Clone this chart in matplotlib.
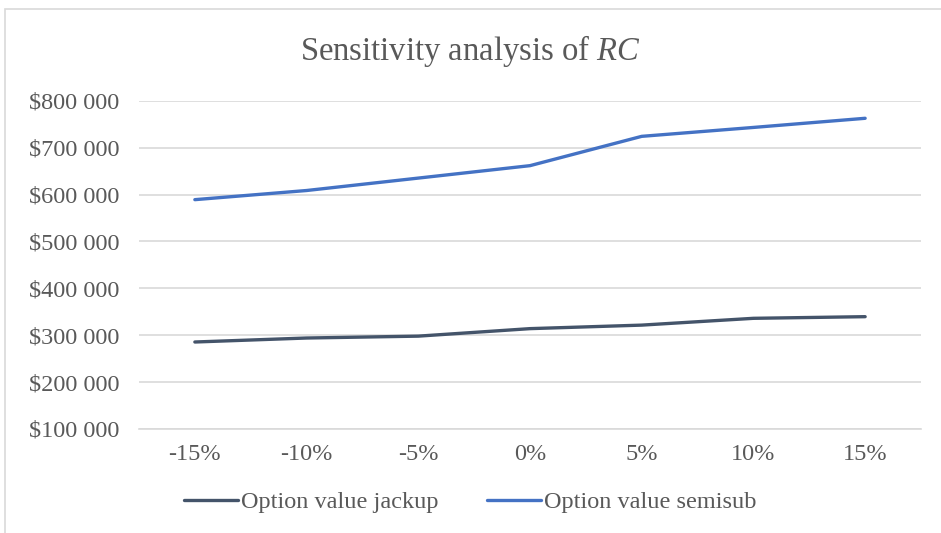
import matplotlib
matplotlib.use("Agg")
import matplotlib.pyplot as plt
from matplotlib.patches import Rectangle
from matplotlib.ticker import FuncFormatter

categories = ["-15%", "-10%", "-5%", "0%", "5%", "10%", "15%"]
jackup = [285500, 294000, 298000, 314000, 321500, 336000, 339500]
semisub = [589000, 608500, 635000, 661500, 724000, 743000, 762500]
series_names = ["Option value jackup", "Option value semisub"]

plt.rcParams['font.family'] = ['Liberation Serif', 'DejaVu Serif']
plt.rcParams['mathtext.fontset'] = 'custom'
plt.rcParams['mathtext.rm'] = 'Liberation Serif'
plt.rcParams['mathtext.it'] = 'Liberation Serif:italic'

W, H = 941, 533
fig = plt.figure(figsize=(W / 100, H / 100), dpi=100)
fig.patch.set_facecolor('white')

# outer chart border
fig.add_artist(Rectangle((5 / W, -0.05), 1.2, 1 - 9 / H + 0.05, transform=fig.transFigure,
                         fill=False, edgecolor='#d9d9d9', linewidth=1.2))

left, right, top, bottom = 139, 921, 100.7, 429
ax = fig.add_axes([left / W, 1 - bottom / H, (right - left) / W, (bottom - top) / H])

x = list(range(len(categories)))
ax.plot(x, jackup, color='#44546A', lw=2.4, solid_capstyle='round', label=series_names[0], zorder=3)
ax.plot(x, semisub, color='#4472C4', lw=2.4, solid_capstyle='round', label=series_names[1], zorder=3)

ax.set_xlim(-0.5, len(categories) - 0.5)
ax.set_ylim(100000, 800000)
ax.set_yticks(range(100000, 800001, 100000))
ax.yaxis.set_major_formatter(FuncFormatter(lambda v, p: "$" + f"{int(v):,}".replace(",", " ")))
ax.set_xticks(x)
ax.set_xticklabels(categories)
ax.grid(axis='y', color='#d9d9d9', lw=1.2)
ax.set_axisbelow(True)
for s in ['top', 'right', 'left']:
    ax.spines[s].set_visible(False)
ax.spines['bottom'].set_color('#d9d9d9')
ax.spines['bottom'].set_linewidth(1.2)
ax.tick_params(axis='both', length=0, labelsize=17.5, colors='#595959', pad=11)
ax.tick_params(axis='y', pad=14)

fig.text(0.5, 1 - 51 / H, r"Sensitivity analysis of $\mathit{RC}$", ha='center', va='center',
         fontsize=23.5, color='#595959')

leg = fig.legend(loc='center', bbox_to_anchor=(0.5, 1 - 502 / H), ncol=2, frameon=False,
                 fontsize=17.5, handlelength=2.2, handletextpad=0.15, columnspacing=2.0)
for t in leg.get_texts():
    t.set_color('#595959')

fig.savefig("out.png", dpi=100, facecolor='white')
